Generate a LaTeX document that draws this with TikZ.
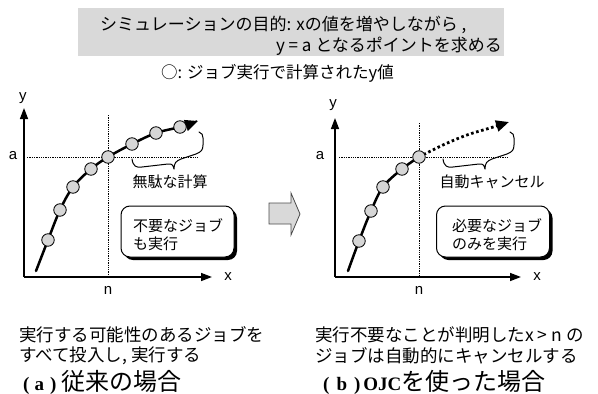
\documentclass[tikz,border=0pt]{standalone}
\usepackage{fontspec}
\setmainfont{Noto Sans CJK JP}
\newfontfamily\latsans{Liberation Sans}
\newfontfamily\serifb{Liberation Serif}
\usetikzlibrary{arrows.meta}
\begin{document}
\begin{tikzpicture}[x=1pt,y=-1pt,
  txt/.style={inner sep=0pt,font=\fontsize{15}{18}\selectfont},
  htxt/.style={inner sep=0pt,font=\fontsize{17}{20}\selectfont},
  ltxt/.style={inner sep=0pt,font=\fontsize{16.5}{19}\selectfont},
  btxt/.style={inner sep=0pt,font=\fontsize{17.5}{20}\selectfont},
  captxt/.style={inner sep=0pt,font=\fontsize{24}{26}\selectfont},
  serifcap/.style={font=\serifb\bfseries\fontsize{19}{21}\selectfont},
  axl/.style={inner sep=0pt,font=\latsans\fontsize{15}{17}\selectfont},
  pt/.style={circle,draw,fill=gray!32,minimum size=12.5pt,inner sep=0pt,line width=0.8pt},
  axis/.style={line width=1.5pt,-{Triangle[length=11pt,width=8pt]}},
  guide/.style={line width=1pt,dash pattern=on 1.3pt off 1pt},
  curve/.style={line width=2.5pt,line cap=round},
  dcurve/.style={line width=2.8pt,dash pattern=on 2.6pt off 2.6pt},
  brace/.style={line width=1pt,line cap=round,line join=round},
  note/.style={draw,line width=1pt,rounded corners=9pt,fill=white,minimum width=113pt,minimum height=51pt,inner sep=0pt},
  shadow/.style={fill=black,rounded corners=9pt,minimum width=113pt,minimum height=51pt,inner sep=0pt},
  blockarrow/.style={draw=black!70,fill=gray!30,line width=0.8pt},
  ]
\useasboundingbox (0,0) rectangle (598,394);

% header
\node[fill=gray!30,minimum width=426pt,minimum height=48pt,inner sep=0pt] (goal) at (291,32) {};
\node[htxt,anchor=west] (goal1) at (100,25) {シミュレーションの目的: xの値を増やしながら ,};
\node[htxt,anchor=east] (goal2) at (502,46) {y = a となるポイントを求める};
\node[ltxt,anchor=west] (legend) at (161,73) {○: ジョブ実行で計算されたy値};

% ---------------- left plot ----------------
\coordinate (LO) at (24,277);
\coordinate (LY) at (24,108);
\coordinate (LX) at (212,277);
\draw[guide] (27,157) coordinate (LA1) -- (198,157) coordinate (LA2);
\draw[guide] (108,115) coordinate (LN1) -- (108,277) coordinate (LN2);
\draw[axis] (LO) -- (LY);
\draw[axis] (LO) -- (LX);
\node[axl] (Lylab) at (23,98) {y};
\node[axl] (Lxlab) at (228,277) {x};
\node[axl] (Lnlab) at (108,290) {n};
\node[axl] (Lalab) at (13,156) {a};

\coordinate (L0) at (36,271);
\coordinate (L1) at (48,240);
\coordinate (L2) at (60,210);
\coordinate (L3) at (73,187);
\coordinate (L4) at (91,169);
\coordinate (L5) at (108,157);
\coordinate (L6) at (132,144);
\coordinate (L7) at (156,133);
\coordinate (L8) at (180,127);
\coordinate (L9) at (198,121);
\draw[curve,-{Triangle[length=13pt,width=11pt]}] plot[smooth,tension=0.6] coordinates {(L0) (L1) (L2) (L3) (L4) (L5) (L6) (L7) (L8) (L9)};
\foreach \i in {1,...,8} \node[pt] (Lp\i) at (L\i) {};

\draw[brace] (132,159) .. controls (133,166) and (136,168) .. (142,167) -- (168,164) .. controls (172,163.5) and (173,165) .. (174,169) .. controls (174,163) and (176,161) .. (181,159) -- (196,154) .. controls (201,152) and (203,150) .. (203,145) -- (203,138) .. controls (203,135) and (202,133) .. (199,132);
\node[txt] (waste) at (170,182) {無駄な計算};

\node[shadow] (Lsh) at (180.5,234.5) {};
\node[note] (Lnote) at (177.5,231.5) {};
\node[txt,anchor=west,align=left] (Lnotetxt) at (133,235) {不要なジョブ\\も実行};

% block arrow
\draw[blockarrow] (269,203) -- (291,203) -- (291,193) -- (300,214) -- (291,235) -- (291,224) -- (269,224) -- cycle;

% ---------------- right plot ----------------
\coordinate (RO) at (335,277);
\coordinate (RY) at (335,118);
\coordinate (RX) at (521,277);
\draw[guide] (339,157) -- (508,157);
\draw[guide] (419,123) -- (419,277);
\draw[axis] (RO) -- (RY);
\draw[axis] (RO) -- (RX);
\node[axl] (Rylab) at (333,105) {y};
\node[axl] (Rxlab) at (537,277) {x};
\node[axl] (Rnlab) at (419,290) {n};
\node[axl] (Ralab) at (320,156) {a};

\coordinate (R0) at (348,271);
\coordinate (R1) at (359,241);
\coordinate (R2) at (371,211);
\coordinate (R3) at (383,187);
\coordinate (R4) at (402,169);
\coordinate (R5) at (419,157);
\coordinate (R6) at (443,145);
\coordinate (R7) at (467,135);
\coordinate (R8) at (490,128);
\coordinate (R9) at (509,122);
\draw[curve] plot[smooth,tension=0.6] coordinates {(R0) (R1) (R2) (R3) (R4) (R5)};
\draw[dcurve,-{Triangle[length=13pt,width=11pt]}] plot[smooth,tension=0.6] coordinates {(R5) (R6) (R7) (R8) (R9)};
\foreach \i in {1,...,5} \node[pt] (Rp\i) at (R\i) {};

\begin{scope}[xshift=311pt]
\draw[brace] (132,159) .. controls (133,166) and (136,168) .. (142,167) -- (168,164) .. controls (172,163.5) and (173,165) .. (174,169) .. controls (174,163) and (176,161) .. (181,159) -- (196,154) .. controls (201,152) and (203,150) .. (203,145) -- (203,138) .. controls (203,135) and (202,133) .. (199,132);
\end{scope}
\node[txt] (cancel) at (492,182) {自動キャンセル};

\node[shadow] (Rsh) at (496,234.5) {};
\node[note] (Rnote) at (493,231.5) {};
\node[txt,anchor=west,align=left] (Rnotetxt) at (452,235) {必要なジョブ\\のみを実行};

% ---------------- bottom texts ----------------
\node[btxt,anchor=west] (La) at (19,335) {実行する可能性のあるジョブを};
\node[btxt,anchor=west] (Lb) at (19,356) {すべて投入し, 実行する};
\node[captxt,anchor=west] (Lcap) at (23,382) {{\serifb\bfseries\fontsize{19}{21}\selectfont (\hspace{5pt}a\hspace{6pt})}\hspace{5pt}従来の場合};
\node[btxt,anchor=west] (Ra) at (315,335) {実行不要なことが判明したx > n の};
\node[btxt,anchor=west] (Rb) at (315,356) {ジョブは自動的にキャンセルする};
\node[captxt,anchor=west] (Rcap) at (323,382) {{\serifb\bfseries\fontsize{19}{21}\selectfont (\hspace{7pt}b\hspace{7pt})\hspace{3pt}OJC}を使った場合};
\end{tikzpicture}
\end{document}
